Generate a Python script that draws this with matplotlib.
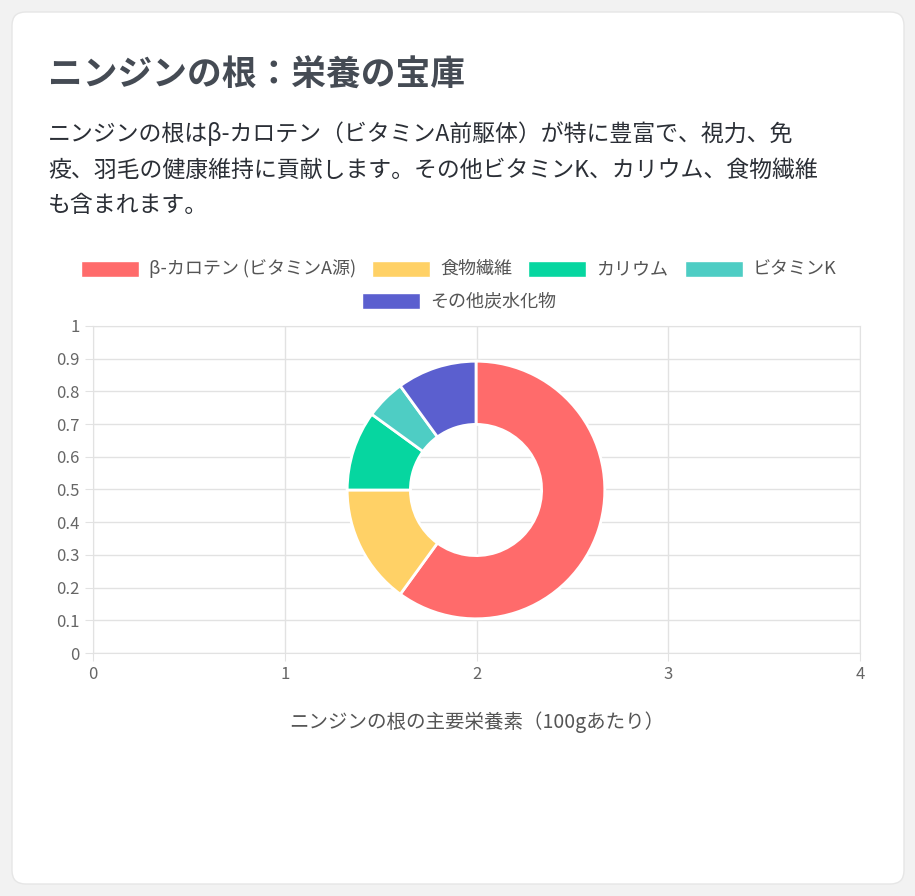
import matplotlib
matplotlib.use("Agg")
import matplotlib.pyplot as plt
from matplotlib.patches import FancyBboxPatch, Rectangle

labels = ["β-カロテン (ビタミンA源)", "食物繊維", "カリウム", "ビタミンK", "その他炭水化物"]
values = [60, 15, 10, 5, 10]
colors = ["#FF6B6B", "#FFD166", "#06D6A0", "#4ECDC4", "#5B5FCF"]
xticks = [0, 1, 2, 3, 4]
yticks = [0, 0.1, 0.2, 0.3, 0.4, 0.5, 0.6, 0.7, 0.8, 0.9, 1]
title = "ニンジンの根：栄養の宝庫"
desc = ["ニンジンの根はβ-カロテン（ビタミンA前駆体）が特に豊富で、視力、免",
        "疫、羽毛の健康維持に貢献します。その他ビタミンK、カリウム、食物繊維",
        "も含まれます。"]
xlabel = "ニンジンの根の主要栄養素（100gあたり）"

plt.rcParams["font.family"] = "Noto Sans CJK JP"
W, H = 915, 896
fig = plt.figure(figsize=(W/100, H/100), dpi=100)
fig.patch.set_facecolor("#f2f2f2")

def fx(x): return x / W
def fy(y): return 1 - y / H

card = FancyBboxPatch((fx(12), fy(884)), fx(904) - fx(12), fy(12) - fy(884),
                      boxstyle="round,pad=0,rounding_size=0.015",
                      transform=fig.transFigure, facecolor="white", edgecolor="#e6e6e6", zorder=-10)
fig.patches.append(card)

fig.text(fx(48), fy(75), title, fontsize=25, fontweight="bold", color="#454b54", va="center")
for i, line in enumerate(desc):
    fig.text(fx(48), fy(134 + i*36), line, fontsize=16.5, color="#2b2f36", va="center")

# axes
ax = fig.add_axes([fx(93), fy(653), fx(860) - fx(93), fy(326) - fy(653)])
ax.set_facecolor("none")
ax.set_xlim(0, 4); ax.set_ylim(0, 1)
ax.set_xticks(xticks); ax.set_yticks(yticks)
ax.set_yticklabels([f"{v:g}" for v in yticks])
ax.grid(True, color="#e2e2e2", lw=1)
ax.tick_params(colors="#666", labelsize=12, length=6, color="#e2e2e2", labelcolor="#666")
for s in ax.spines.values():
    s.set_color("#e2e2e2")
ax.set_xlabel(xlabel, fontsize=14, color="#555", labelpad=20)

# donut
R = 161
pax = fig.add_axes([fx(476 - R), fy(490 + R), 2*R/W, 2*R/H])
pax.pie(values, colors=colors, startangle=90, counterclock=False,
        wedgeprops=dict(width=79/161, edgecolor="white", linewidth=2))
pax.set_aspect("equal")
pax.axis("off")

# legend
row1 = [(81, 0), (372, 1), (528, 2), (685, 3)]
row2 = [(362, 4)]
for y, row in ((269, row1), (301, row2)):
    for x, i in row:
        fig.patches.append(Rectangle((fx(x), fy(y + 8)), 58/W, 16/H, transform=fig.transFigure,
                                     facecolor=colors[i], edgecolor="white", lw=1))
        fig.text(fx(x + 68), fy(y), labels[i], fontsize=13, color="#555", va="center")

fig.savefig("out.png", dpi=100, facecolor=fig.get_facecolor())
